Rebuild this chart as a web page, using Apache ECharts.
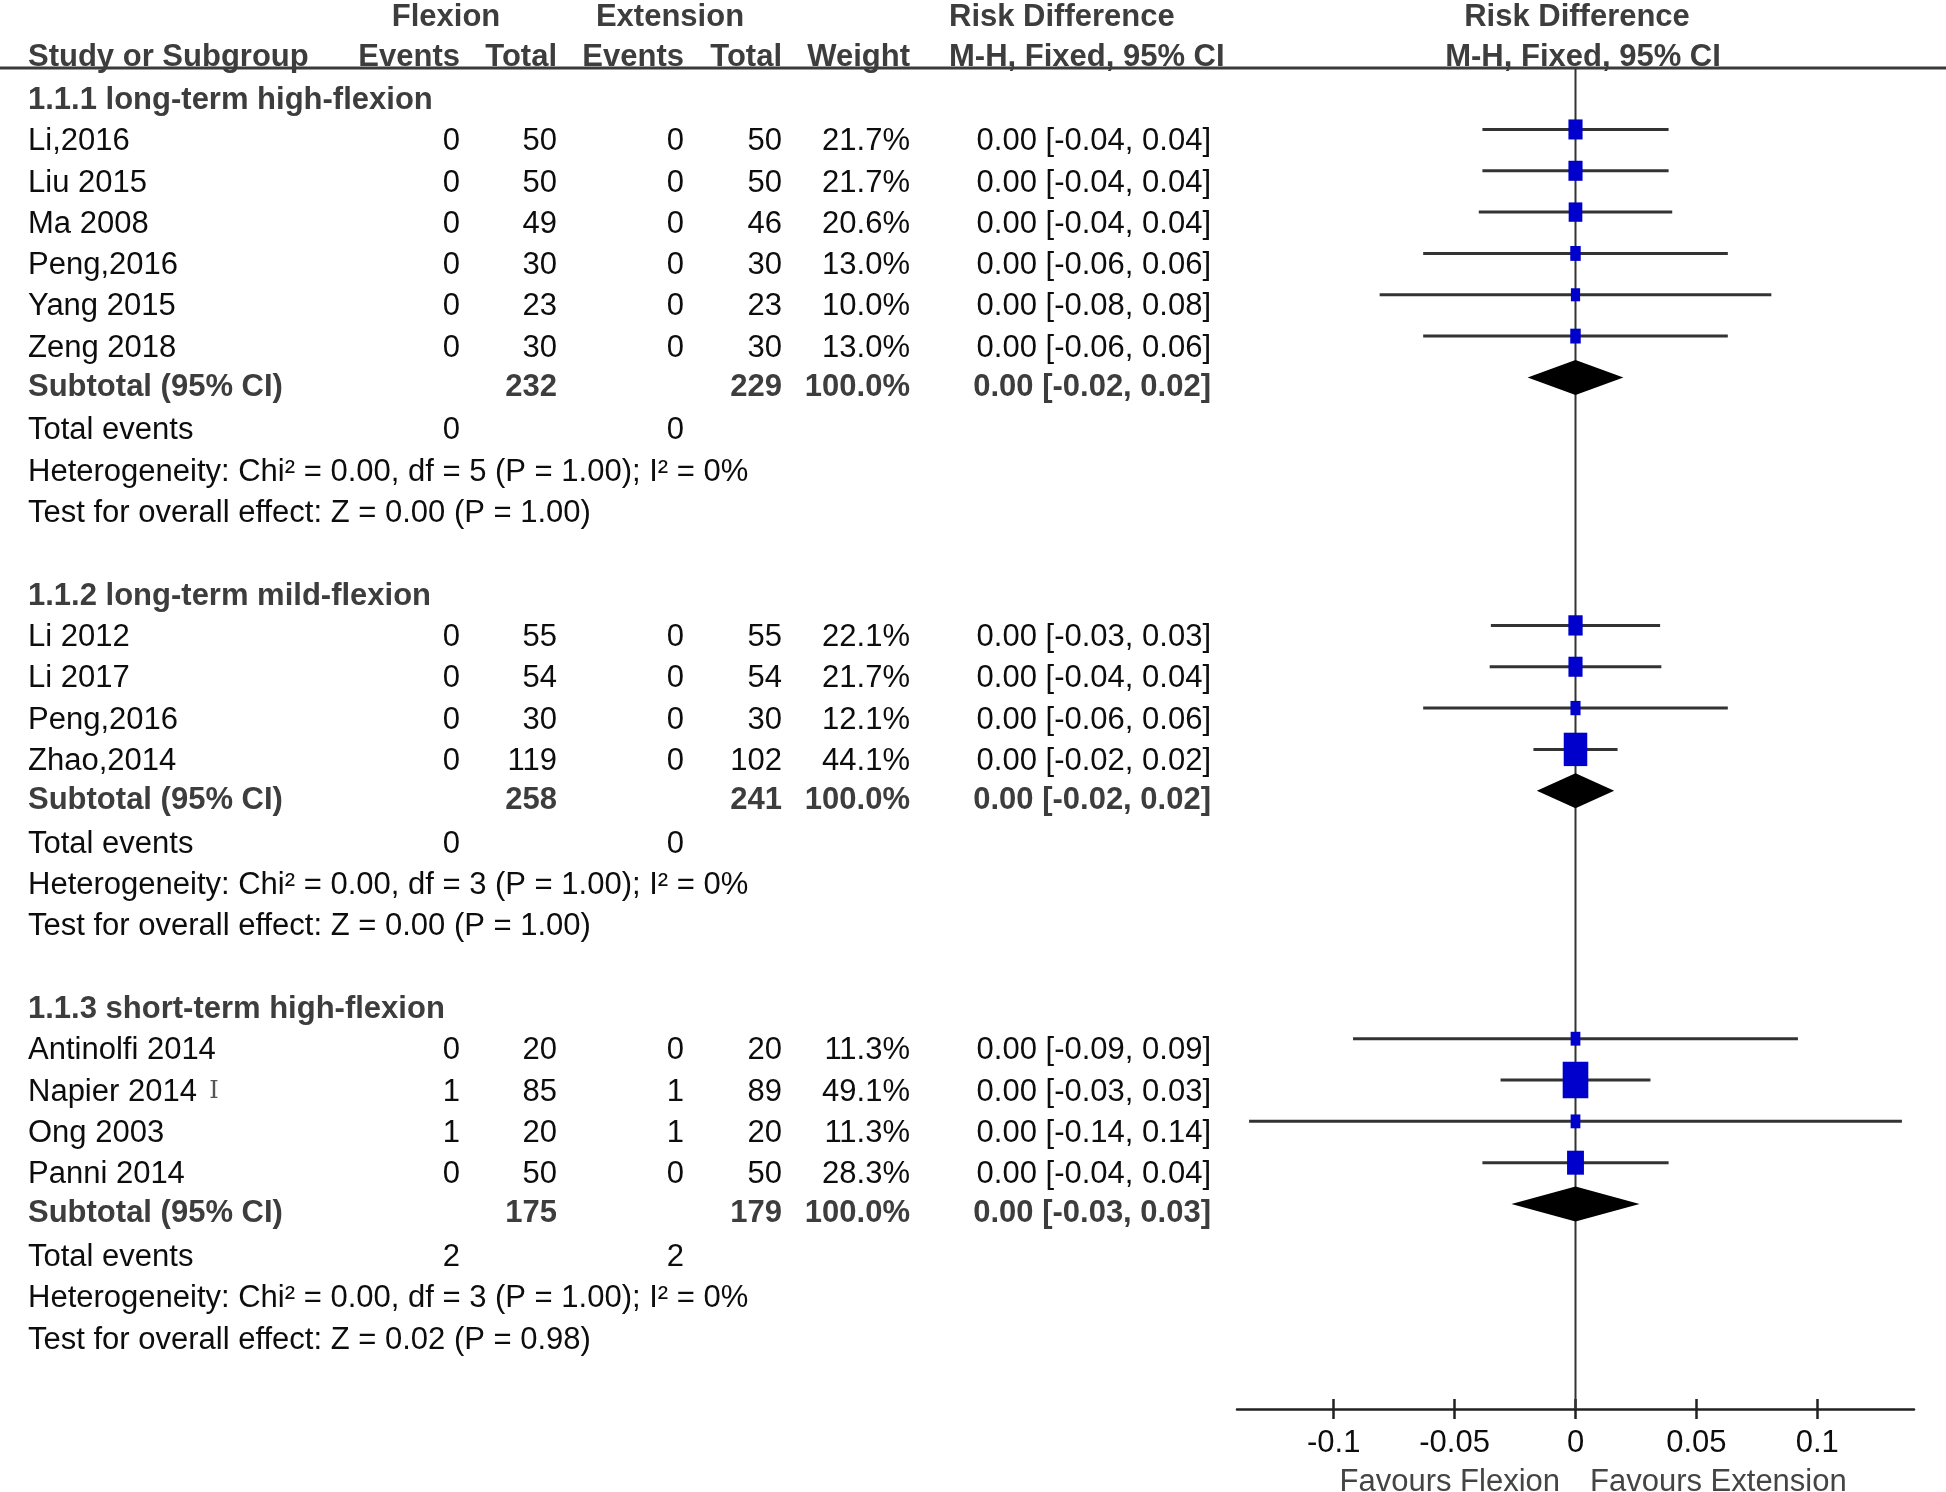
<!DOCTYPE html>
<html>
<head>
<meta charset="utf-8">
<script src="https://cdn.jsdelivr.net/npm/echarts@6/dist/echarts.min.js"></script>
<style>
html,body{margin:0;padding:0;background:#fff;}
#chart{width:1946px;height:1492px;}
</style>
</head>
<body>
<div id="chart"></div>
<script>
// ---------------- DATA ----------------
const groupNames = ['1.1.1 long-term high-flexion', '1.1.2 long-term mild-flexion', '1.1.3 short-term high-flexion'];
const studyNames = ['Li,2016', 'Liu 2015', 'Ma 2008', 'Peng,2016', 'Yang 2015', 'Zeng 2018',
                    'Li 2012', 'Li 2017', 'Peng,2016', 'Zhao,2014',
                    'Antinolfi 2014', 'Napier 2014', 'Ong 2003', 'Panni 2014'];
const studyGroup = [0, 0, 0, 0, 0, 0, 1, 1, 1, 1, 2, 2, 2, 2];
const flexEvents = [0, 0, 0, 0, 0, 0, 0, 0, 0, 0, 0, 1, 1, 0];
const flexTotal  = [50, 50, 49, 30, 23, 30, 55, 54, 30, 119, 20, 85, 20, 50];
const extEvents  = [0, 0, 0, 0, 0, 0, 0, 0, 0, 0, 0, 1, 1, 0];
const extTotal   = [50, 50, 46, 30, 23, 30, 55, 54, 30, 102, 20, 89, 20, 50];
const weights    = [21.7, 21.7, 20.6, 13.0, 10.0, 13.0, 22.1, 21.7, 12.1, 44.1, 11.3, 49.1, 11.3, 28.3];
const rdEst      = [0, 0, 0, 0, 0, 0, 0, 0, 0, 0, 0, 0, 0, 0];
const ciLow      = [-0.0385, -0.0385, -0.040, -0.063, -0.081, -0.063, -0.035, -0.0355, -0.063, -0.0174, -0.092, -0.031, -0.135, -0.0385];
const ciHigh     = [0.0385, 0.0385, 0.040, 0.063, 0.081, 0.063, 0.035, 0.0355, 0.063, 0.0174, 0.092, 0.031, 0.135, 0.0385];
const ciText     = ['0.00 [-0.04, 0.04]', '0.00 [-0.04, 0.04]', '0.00 [-0.04, 0.04]', '0.00 [-0.06, 0.06]',
                    '0.00 [-0.08, 0.08]', '0.00 [-0.06, 0.06]', '0.00 [-0.03, 0.03]', '0.00 [-0.04, 0.04]',
                    '0.00 [-0.06, 0.06]', '0.00 [-0.02, 0.02]', '0.00 [-0.09, 0.09]', '0.00 [-0.03, 0.03]',
                    '0.00 [-0.14, 0.14]', '0.00 [-0.04, 0.04]'];
const subFlexTotal = [232, 258, 175];
const subExtTotal  = [229, 241, 179];
const subWeight    = ['100.0%', '100.0%', '100.0%'];
const subEst       = [0, 0, 0];
const subLow       = [-0.0198, -0.016, -0.0265];
const subHigh      = [0.0198, 0.016, 0.0265];
const subCIText    = ['0.00 [-0.02, 0.02]', '0.00 [-0.02, 0.02]', '0.00 [-0.03, 0.03]'];
const totEventsFlex = [0, 0, 2];
const totEventsExt  = [0, 0, 2];
const hetText  = ['Heterogeneity: Chi² = 0.00, df = 5 (P = 1.00); I² = 0%',
                  'Heterogeneity: Chi² = 0.00, df = 3 (P = 1.00); I² = 0%',
                  'Heterogeneity: Chi² = 0.00, df = 3 (P = 1.00); I² = 0%'];
const testText = ['Test for overall effect: Z = 0.00 (P = 1.00)',
                  'Test for overall effect: Z = 0.00 (P = 1.00)',
                  'Test for overall effect: Z = 0.02 (P = 0.98)'];
const xTicks = [-0.1, -0.05, 0, 0.05, 0.1];
const xTickLabels = ['-0.1', '-0.05', '0', '0.05', '0.1'];
const favourLeft = 'Favours Flexion';
const favourRight = 'Favours Extension';

// ---------------- LAYOUT ----------------
const W = 1946;
const ROW0 = 96.8, ROWH = 41.33;          // pixel centre of row 0, row pitch
const AXIS_Y = 1409, HEAD_LINE_Y = 68;
const rowAt = px => (px - ROW0) / ROWH;
const MARK_OFF = -0.21;                    // markers sit slightly above text centre
const TEXT_DY = 3.5;                       // text baseline nudge (px)
const SUB_DY = -2.5;                       // subtotal rows sit a little higher
const HEAD2_DY = -2;                       // second header row nudge
const COL = {name: 28, fe: 460, ft: 557, ee: 684, et: 782, wt: 910, ci: 1211, rdHead: 949};
const FONT = "'Liberation Sans', Arial, Helvetica, sans-serif";
const FS = 31;
const C_TXT = '#0d0d0d', C_BOLD = '#3d3d3d';

// build row structure
const groupStart = [];
{
  let r = 0;
  for (let g = 0; g < groupNames.length; g++) {
    groupStart.push(r);
    const n = studyGroup.filter(v => v === g).length;
    r += n + 6;
  }
}
const studyRow = [];
{
  const cnt = [0, 0, 0];
  studyGroup.forEach((g, i) => { cnt[g]++; studyRow[i] = groupStart[g] + cnt[g]; });
}
const nInGroup = g => studyGroup.filter(v => v === g).length;
const subRow = g => groupStart[g] + nInGroup(g) + 1;

// text items
const texts = [];
function T(x, row, text, align, bold, color, extra) {
  texts.push(Object.assign({x, row, text, align, bold: !!bold, color: color || (bold ? C_BOLD : C_TXT), dy: 0}, extra || {}));
}
// headers
T(446, -2, 'Flexion', 'center', true);
T(670, -2, 'Extension', 'center', true);
T(COL.rdHead, -2, 'Risk Difference', 'left', true);
T(1577, -2, 'Risk Difference', 'center', true);
const H2 = {dy: HEAD2_DY};
T(COL.name, -1, 'Study or Subgroup', 'left', true, null, H2);
T(COL.fe, -1, 'Events', 'right', true, null, H2);
T(COL.ft, -1, 'Total', 'right', true, null, H2);
T(COL.ee, -1, 'Events', 'right', true, null, H2);
T(COL.et, -1, 'Total', 'right', true, null, H2);
T(COL.wt, -1, 'Weight', 'right', true, null, H2);
T(COL.rdHead, -1, 'M-H, Fixed, 95% CI', 'left', true, null, H2);
T(1583, -1, 'M-H, Fixed, 95% CI', 'center', true, null, H2);

for (let g = 0; g < groupNames.length; g++) {
  T(COL.name, groupStart[g], groupNames[g], 'left', true);
  const sr = subRow(g);
  const S = {dy: SUB_DY};
  T(COL.name, sr, 'Subtotal (95% CI)', 'left', true, null, S);
  T(COL.ft, sr, String(subFlexTotal[g]), 'right', true, null, S);
  T(COL.et, sr, String(subExtTotal[g]), 'right', true, null, S);
  T(COL.wt, sr, subWeight[g], 'right', true, null, S);
  T(COL.ci, sr, subCIText[g], 'right', true, null, S);
  T(COL.name, sr + 1, 'Total events', 'left');
  T(COL.fe, sr + 1, String(totEventsFlex[g]), 'right');
  T(COL.ee, sr + 1, String(totEventsExt[g]), 'right');
  T(COL.name, sr + 2, hetText[g], 'left');
  T(COL.name, sr + 3, testText[g], 'left');
}
studyNames.forEach((s, i) => {
  const r = studyRow[i];
  T(COL.name, r, s, 'left');
  T(COL.fe, r, String(flexEvents[i]), 'right');
  T(COL.ft, r, String(flexTotal[i]), 'right');
  T(COL.ee, r, String(extEvents[i]), 'right');
  T(COL.et, r, String(extTotal[i]), 'right');
  T(COL.wt, r, weights[i].toFixed(1) + '%', 'right');
  T(COL.ci, r, ciText[i], 'right');
});
// text cursor artefact after "Napier 2014"
T(214, studyRow[11], 'I', 'center', false, '#555', {fontFamily: "'DejaVu Serif', serif", fontSize: 24});
// favours labels under the axis
T(1560, rowAt(1479), favourLeft, 'right', false, '#444');
T(1590, rowAt(1479), favourRight, 'left', false, '#444');

// ---------------- CHART ----------------
const chart = echarts.init(document.getElementById('chart'), null, {renderer: 'canvas', width: 1946, height: 1492});

const plotLeft = 1237, plotRight = 1914;

const option = {
  backgroundColor: '#ffffff',
  animation: false,
  grid: [
    {left: plotLeft, width: plotRight - plotLeft, top: HEAD_LINE_Y, height: AXIS_Y - HEAD_LINE_Y, containLabel: false},
    {left: 0, width: W, top: 0, height: AXIS_Y, containLabel: false}
  ],
  xAxis: [
    {
      gridIndex: 0, type: 'value', min: -0.14, max: 0.14, position: 'bottom',
      splitLine: {show: false},
      axisLine: {show: true, onZero: false, lineStyle: {color: '#222', width: 2.5}},
      axisTick: {show: true, inside: false, length: 10, customValues: xTicks, lineStyle: {color: '#222', width: 2.5}},
      axisLabel: {
        show: true, customValues: xTicks, margin: 19,
        formatter: v => { const i = xTicks.findIndex(t => Math.abs(t - v) < 1e-9); return i >= 0 ? xTickLabels[i] : ''; },
        fontFamily: FONT, fontSize: FS, color: C_TXT
      }
    },
    {
      gridIndex: 0, type: 'value', min: -0.14, max: 0.14, position: 'bottom',
      splitLine: {show: false},
      axisLine: {show: false, onZero: false},
      axisTick: {show: true, inside: true, length: 10, customValues: xTicks, lineStyle: {color: '#222', width: 2.5}},
      axisLabel: {show: false}
    },
    {gridIndex: 1, type: 'value', min: 0, max: W, show: false}
  ],
  yAxis: [
    {gridIndex: 0, type: 'value', inverse: true, min: rowAt(HEAD_LINE_Y), max: rowAt(AXIS_Y), show: false},
    {gridIndex: 1, type: 'value', inverse: true, min: rowAt(0), max: rowAt(AXIS_Y), show: false}
  ],
  series: [
    // header rule across the whole width
    {
      type: 'custom', xAxisIndex: 2, yAxisIndex: 1, silent: true, clip: false,
      data: [[0, rowAt(HEAD_LINE_Y), W]],
      renderItem: (params, api) => {
        const a = api.coord([api.value(0), api.value(1)]);
        const b = api.coord([api.value(2), api.value(1)]);
        return {type: 'line', shape: {x1: a[0], y1: a[1], x2: b[0], y2: b[1]}, style: {stroke: '#3a3a3a', lineWidth: 3}};
      }
    },
    // table text
    {
      type: 'custom', xAxisIndex: 2, yAxisIndex: 1, silent: true, clip: false,
      data: texts.map(t => [t.x, t.row]),
      renderItem: (params, api) => {
        const t = texts[params.dataIndex];
        const p = api.coord([api.value(0), api.value(1)]);
        return {
          type: 'text', x: p[0], y: p[1] + TEXT_DY + (t.dy || 0),
          style: {
            text: t.text, x: 0, y: 0, align: t.align, verticalAlign: 'middle',
            fontFamily: t.fontFamily || FONT, fontSize: t.fontSize || FS,
            fontWeight: t.bold ? 'bold' : 'normal', fill: t.color
          }
        };
      }
    },
    // line of no effect
    {
      type: 'custom', xAxisIndex: 0, yAxisIndex: 0, silent: true, clip: false,
      data: [[0, rowAt(HEAD_LINE_Y), rowAt(AXIS_Y)]],
      renderItem: (params, api) => {
        const a = api.coord([api.value(0), api.value(1)]);
        const b = api.coord([api.value(0), api.value(2)]);
        return {type: 'line', shape: {x1: a[0], y1: a[1], x2: b[0], y2: b[1]}, style: {stroke: '#333', lineWidth: 2}};
      }
    },
    // study CIs and weighted squares
    {
      type: 'custom', xAxisIndex: 0, yAxisIndex: 0, silent: true, clip: false,
      data: studyNames.map((s, i) => [rdEst[i], studyRow[i] + MARK_OFF, ciLow[i], ciHigh[i], weights[i]]),
      renderItem: (params, api) => {
        const c = api.coord([api.value(0), api.value(1)]);
        const l = api.coord([api.value(2), api.value(1)]);
        const h = api.coord([api.value(3), api.value(1)]);
        const w = 0.42 * api.value(4) + 5;
        const hh = w * 1.42;
        return {
          type: 'group',
          children: [
            {type: 'line', shape: {x1: l[0], y1: l[1], x2: h[0], y2: h[1]}, style: {stroke: '#333', lineWidth: 3}},
            {type: 'rect', shape: {x: c[0] - w / 2, y: c[1] - hh / 2, width: w, height: hh}, style: {fill: '#0000cc'}}
          ]
        };
      }
    },
    // subtotal diamonds
    {
      type: 'custom', xAxisIndex: 0, yAxisIndex: 0, silent: true, clip: false,
      data: groupNames.map((g, i) => [subEst[i], subRow(i) + MARK_OFF, subLow[i], subHigh[i]]),
      renderItem: (params, api) => {
        const c = api.coord([api.value(0), api.value(1)]);
        const l = api.coord([api.value(2), api.value(1)]);
        const h = api.coord([api.value(3), api.value(1)]);
        const half = 17.5;
        return {
          type: 'polygon',
          shape: {points: [[l[0], c[1]], [c[0], c[1] - half], [h[0], c[1]], [c[0], c[1] + half]]},
          style: {fill: '#000'}
        };
      }
    }
  ]
};
chart.setOption(option);
</script>
</body>
</html>
